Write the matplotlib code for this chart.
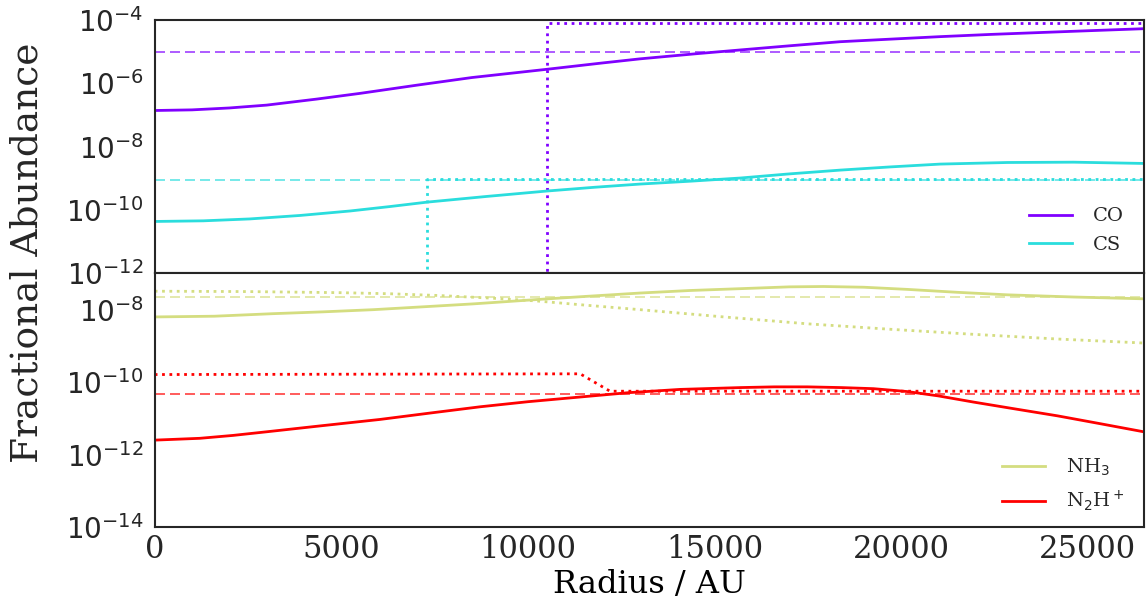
import numpy as np
from matplotlib import pyplot as plt

plt.rcParams['font.family'] = 'DejaVu Sans'
plt.rcParams['mathtext.fontset'] = 'dejavusans'
plt.rcParams['text.color'] = '#262626'
plt.rcParams['xtick.color'] = '#262626'
plt.rcParams['ytick.color'] = '#262626'
serif = 'DejaVu Serif'

# radius (AU) and log10 abundances
r_co = [0, 1000, 2000, 3000, 4340, 5500, 7030, 8500, 10510, 12000, 13010, 14500, 15690,
        17000, 18370, 19700, 21050, 22400, 23740, 25100, 26500]
co = [-6.86, -6.84, -6.78, -6.69, -6.50, -6.32, -6.06, -5.82, -5.56, -5.36, -5.23, -5.07,
      -4.95, -4.82, -4.69, -4.61, -4.53, -4.46, -4.40, -4.34, -4.28]

r_cs = [0, 1300, 2550, 3900, 5230, 6300, 7300, 8900, 10510, 11800, 13010, 14350, 15690,
        17000, 18370, 19700, 21050, 22850, 24620, 26500]
cs = [-10.36, -10.34, -10.28, -10.17, -10.03, -9.89, -9.75, -9.57, -9.40, -9.28, -9.18,
      -9.09, -8.99, -8.86, -8.74, -8.64, -8.55, -8.50, -8.49, -8.53]

r_nh3 = [0, 1600, 3170, 4500, 5850, 7200, 8530, 10240, 11600, 13010, 14350, 15690, 17000,
         17920, 19000, 20170, 21500, 22850, 24620, 26500]
nh3 = [-8.20, -8.18, -8.11, -8.06, -8.00, -7.92, -7.84, -7.72, -7.63, -7.54, -7.47, -7.42,
       -7.37, -7.36, -7.38, -7.44, -7.52, -7.59, -7.65, -7.70]

r_n2h = [0, 1210, 2100, 3000, 4500, 6030, 7400, 8720, 10000, 11400, 12700, 14080, 15690,
         16600, 17490, 18400, 19260, 20170, 21000, 21940, 23000, 24190, 25300, 26500]
n2h = [-11.60, -11.55, -11.47, -11.37, -11.20, -11.03, -10.85, -10.68, -10.54, -10.41,
       -10.29, -10.20, -10.15, -10.13, -10.13, -10.15, -10.18, -10.26, -10.38, -10.55,
       -10.73, -10.93, -11.14, -11.37]

# model inputs (dotted) and reference levels (dashed)
r_co_in = [0, 10520, 10520, 26500]
co_in = [-20, -20, -4.085, -4.085]
r_cs_in = [0, 7285, 7285, 26500]
cs_in = [-20, -20, -9.01, -9.01]
r_nh3_in = [0, 2500, 4960, 6300, 7640, 9000, 10240, 11600, 13010, 15250, 17490, 19700,
            21940, 24200, 26500]
nh3_in = [-7.49, -7.50, -7.53, -7.56, -7.61, -7.68, -7.76, -7.88, -8.00, -8.20, -8.39,
          -8.54, -8.68, -8.81, -8.92]
r_n2h_in = [0, 11400, 12200, 26500]
n2h_in = [-9.79, -9.77, -10.25, -10.25]

co_ref = 1.0e-5
cs_ref = 9.1e-10
nh3_ref = 2.3e-8
n2h_ref = 4.8e-11

colors = plt.cm.rainbow(np.linspace(0, 1, 4))

fig, (ax1, ax2) = plt.subplots(2, 1, sharex=True, figsize=(11.46, 6.01), dpi=100)
fig.subplots_adjust(left=0.135, right=0.998, top=0.967, bottom=0.123, hspace=0)

def panel(ax, curves, anchor):
    for r, v, rin, vin, ref, c, lab in curves:
        ax.plot(r, 10**np.array(v), color=c, lw=2, label=lab)
        ax.plot(rin, 10**np.array(vin), color=c, lw=2, ls=':')
        ax.axhline(ref, color=c, lw=1.2, dashes=(6, 3), alpha=0.75)
    ax.set_yscale('log')
    for s in ax.spines.values():
        s.set_color('#262626')
        s.set_linewidth(1.5)
    ax.tick_params(length=0, labelsize=20, pad=8)
    ax.legend(loc='lower right', bbox_to_anchor=anchor, frameon=False,
              prop={'family': serif, 'size': 14}, handlelength=2.2, handletextpad=1.1,
              labelspacing=0.55, borderaxespad=0.6)

panel(ax1, [(r_co, co, r_co_in, co_in, co_ref, colors[0], 'CO'),
            (r_cs, cs, r_cs_in, cs_in, cs_ref, colors[1], 'CS')], (1, 0))
panel(ax2, [(r_nh3, nh3, r_nh3_in, nh3_in, nh3_ref, colors[2], r'NH$_3$'),
            (r_n2h, n2h, r_n2h_in, n2h_in, n2h_ref, colors[3], r'N$_2$H$^+$')], (1, -0.022))

ax1.set_ylim(1e-12, 1e-4)
ax1.set_yticks([1e-4, 1e-6, 1e-8, 1e-10, 1e-12])
ax1.minorticks_off()
ax2.set_ylim(1e-14, 1e-7)
ax2.set_yticks([1e-8, 1e-10, 1e-12, 1e-14])
ax2.minorticks_off()
ax2.set_xlim(0, 26500)
xt = [0, 5000, 10000, 15000, 20000, 25000]
ax2.set_xticks(xt, labels=[str(t) for t in xt], fontfamily=serif, fontsize=22)
ax2.tick_params(axis='x', pad=5)

ax2.set_xlabel('Radius / AU', fontsize=23, family=serif, labelpad=3)
fig.text(0.024, 0.58, 'Fractional Abundance', rotation=90, fontsize=27, family=serif,
         ha='center', va='center')

fig.savefig('out.png')
